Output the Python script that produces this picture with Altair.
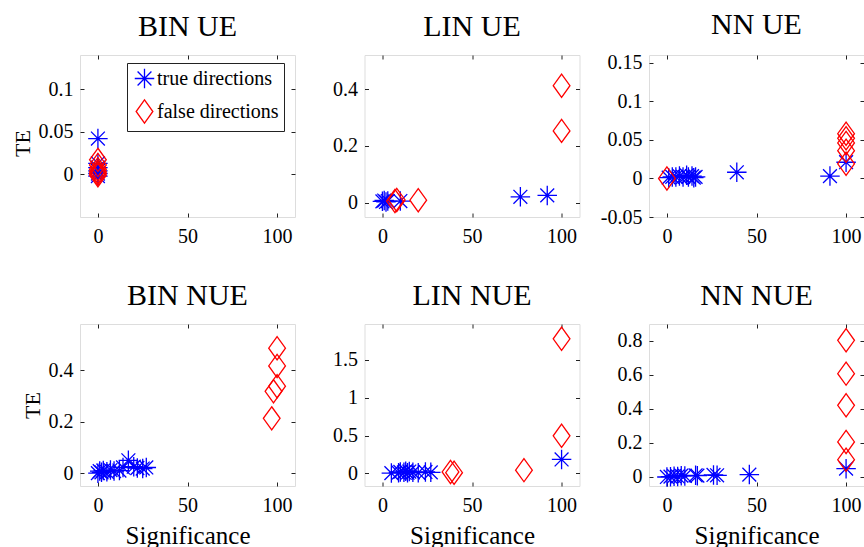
import altair as alt
import pandas as pd

FONT = "Liberation Serif"
TYPES = ["true directions", "false directions"]
STAR = "M-1,0L1,0M0,-1L0,1M-0.71,-0.71L0.71,0.71M-0.71,0.71L0.71,-0.71"
DIAMOND = "M0,-1L0.72,0L0,1L-0.72,0Z"

# ---- data ----
BIN_UE_true_x = [0, 0, 0, 0, 0, 0]
BIN_UE_true_y = [0.042, 0.013, 0.008, 0.004, 0.001, -0.002]
BIN_UE_false_x = [0, 0, 0, 0, 0, 0]
BIN_UE_false_y = [0.017, 0.011, 0.006, 0.003, 0.001, -0.001]

LIN_UE_true_x = [0, 1, 2, 3, 10, 77, 92]
LIN_UE_true_y = [0.005, 0.008, 0.003, 0.006, 0.006, 0.021, 0.026]
LIN_UE_false_x = [7, 8, 20, 100, 100]
LIN_UE_false_y = [0.006, 0.01, 0.009, 0.412, 0.253]

NN_UE_true_x = [1, 3, 5, 7, 9, 11, 12, 14, 15, 16, 39, 91, 100]
NN_UE_true_y = [0.001, 0.002, 0.002, 0.003, 0.002, 0.004, 0.002, 0.003, 0.001, 0.002, 0.008, 0.003, 0.021]
NN_UE_false_x = [0, 100, 100, 100, 100, 100]
NN_UE_false_y = [0.0, 0.058, 0.052, 0.046, 0.036, 0.019]

BIN_NUE_true_x = [0, 1, 2, 3, 5, 7, 9, 12, 14, 17, 20, 22, 25, 27]
BIN_NUE_true_y = [0.0, 0.008, 0.003, 0.01, 0.005, 0.012, 0.008, 0.01, 0.022, 0.05, 0.025, 0.02, 0.018, 0.022]
BIN_NUE_false_x = [97, 100, 100, 100, 98]
BIN_NUE_false_y = [0.213, 0.486, 0.417, 0.338, 0.318]

LIN_NUE_true_x = [5, 9, 10, 12, 13, 14, 15, 17, 20, 24, 27, 100]
LIN_NUE_true_y = [0.005, 0.01, 0.02, 0.015, 0.03, 0.01, 0.025, 0.015, 0.01, 0.02, 0.015, 0.185]
LIN_NUE_false_x = [38, 40, 79, 100, 100]
LIN_NUE_false_y = [0.02, 0.01, 0.044, 1.775, 0.497]

NN_NUE_true_x = [0, 2, 4, 6, 8, 10, 16, 17, 26, 28, 46, 100]
NN_NUE_true_y = [0.0, 0.002, 0.005, 0.003, 0.008, 0.006, 0.01, 0.008, 0.012, 0.01, 0.014, 0.049]
NN_NUE_false_x = [100, 100, 100, 100, 100]
NN_NUE_false_y = [0.804, 0.608, 0.422, 0.206, 0.102]

TITLES = ["BIN UE", "LIN UE", "NN UE", "BIN NUE", "LIN NUE", "NN NUE"]
Y_DOMAINS = [[-0.05, 0.14], [-0.05, 0.52], [-0.05, 0.16],
             [-0.05, 0.58], [-0.165, 1.97], [-0.053, 0.9]]
Y_TICKS = [[0, 0.05, 0.1], [0, 0.2, 0.4], [-0.05, 0, 0.05, 0.1, 0.15],
           [0, 0.2, 0.4], [0, 0.5, 1, 1.5], [0, 0.2, 0.4, 0.6, 0.8]]
X_DOMAIN = [-10, 110]
X_TICKS = [0, 50, 100]

SERIES = [
    (BIN_UE_true_x, BIN_UE_true_y, BIN_UE_false_x, BIN_UE_false_y),
    (LIN_UE_true_x, LIN_UE_true_y, LIN_UE_false_x, LIN_UE_false_y),
    (NN_UE_true_x, NN_UE_true_y, NN_UE_false_x, NN_UE_false_y),
    (BIN_NUE_true_x, BIN_NUE_true_y, BIN_NUE_false_x, BIN_NUE_false_y),
    (LIN_NUE_true_x, LIN_NUE_true_y, LIN_NUE_false_x, LIN_NUE_false_y),
    (NN_NUE_true_x, NN_NUE_true_y, NN_NUE_false_x, NN_NUE_false_y),
]

W, H = 215, 162
LABEL_EXPR = "replace(format(datum.value, '~g'), '\u2212', '-')"

legend = alt.Legend(
    title=None, orient="none", legendX=47, legendY=8,
    labelFont=FONT, labelFontSize=20, labelColor="black", labelOffset=0,
    symbolSize=450, symbolStrokeWidth=1.3, fillColor="white",
    strokeColor="#222222", padding=5, rowPadding=6,
)


def panel(i):
    tx, ty, fx, fy = SERIES[i]
    df = pd.DataFrame({
        "x": list(tx) + list(fx),
        "y": list(ty) + list(fy),
        "type": [TYPES[0]] * len(tx) + [TYPES[1]] * len(fx),
    })
    row, col = divmod(i, 3)
    xaxis = alt.Axis(
        values=X_TICKS, title="Significance" if row == 1 else "",
        labelExpr=LABEL_EXPR, labelFont=FONT, labelFontSize=20, labelColor="black",
        labelPadding=9, ticks=False, domain=False, grid=True,
        gridColor="#222222", gridOpacity=1, gridWidth=1, gridDash=[4, H - 8, 4, 400],
        titleFont=FONT, titleFontSize=25, titleFontWeight="normal", titleColor="black",
        titleBaseline="alphabetic", titleY=57, labelOverlap=False,
    )
    yargs = dict(
        values=Y_TICKS[i], title="TE" if col == 0 else "",
        labelExpr=LABEL_EXPR, labelFont=FONT, labelFontSize=20, labelColor="black",
        labelPadding=7, ticks=False, domain=False, grid=True,
        gridColor="#222222", gridOpacity=1, gridWidth=1, gridDash=[4, W - 8, 4, 400],
        titleFont=FONT, titleFontSize=22, titleFontWeight="normal", titleColor="black",
        titlePadding=4, labelOverlap=False,
    )
    if row == 0 and col == 0:
        yargs["titleY"] = 88
    yaxis = alt.Axis(**yargs)
    return alt.Chart(df).mark_point(filled=False, strokeWidth=1.3, opacity=1).encode(
        x=alt.X("x:Q", scale=alt.Scale(domain=X_DOMAIN, nice=False, zero=False), axis=xaxis),
        y=alt.Y("y:Q", scale=alt.Scale(domain=Y_DOMAINS[i], nice=False, zero=False), axis=yaxis),
        color=alt.Color("type:N", scale=alt.Scale(domain=TYPES, range=["#0000ff", "#ff0000"]), legend=legend),
        shape=alt.Shape("type:N", scale=alt.Scale(domain=TYPES, range=[STAR, DIAMOND]), legend=legend),
        size=alt.Size("type:N", scale=alt.Scale(domain=TYPES, range=[380, 540]), legend=None),
    ).properties(
        width=W, height=H,
        title=alt.TitleParams(
            TITLES[i], font=FONT, fontSize=30, fontWeight="normal", color="black",
            baseline="alphabetic", offset=-11, frame="group", anchor="middle",
        ),
    )


chart = alt.ConcatChart(
    concat=[panel(i) for i in range(6)],
    columns=3,
    spacing={"row": 107, "column": 69.5},
    bounds="flush",
).properties(
    autosize=alt.AutoSizeParams(type="none"),
    padding={"left": 80, "top": 55, "right": 784, "bottom": 492},
).configure_view(
    stroke="#222222", strokeWidth=1, fill="white"
).configure(background="white")

chart.save("out.html", embed_options={"renderer": "svg", "actions": False})
